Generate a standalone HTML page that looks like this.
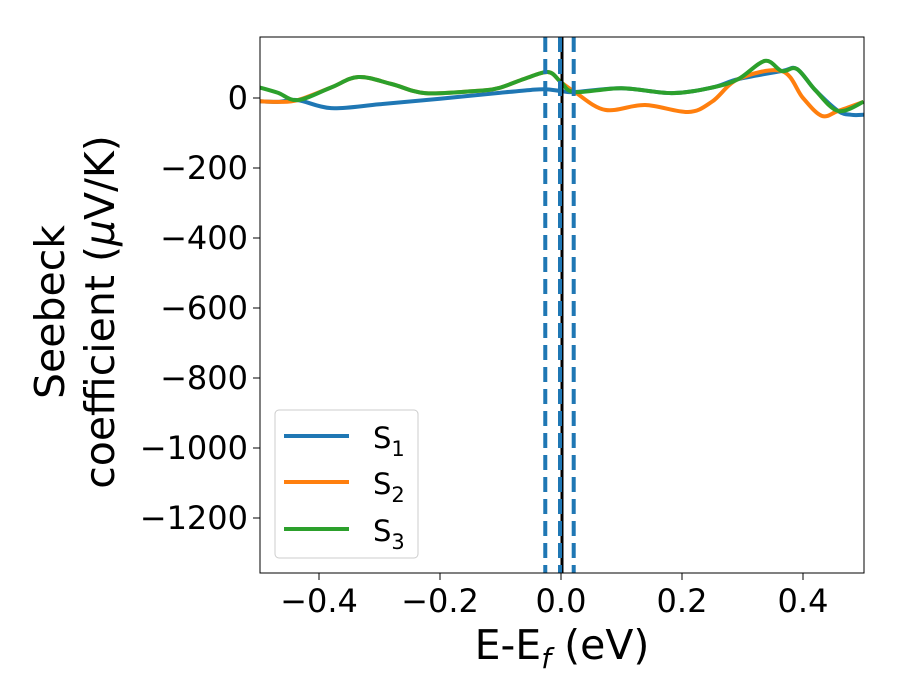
<!DOCTYPE html>
<html><head><meta charset="utf-8"><style>
html,body{margin:0;padding:0;background:#fff;}
svg{display:block;font-family:"DejaVu Sans","Liberation Sans",sans-serif;}
</style></head><body>
<svg id="chart" width="900" height="700">
<defs><clipPath id="clip"><rect x="260" y="37" width="604" height="536"/></clipPath></defs>
<g id="plot" clip-path="url(#clip)"></g>
<rect x="260" y="37" width="604" height="536" fill="none" stroke="#000" stroke-width="1"/>
<g id="xticks"></g>
<g id="yticks"></g>
<text x="562" y="659" font-size="41" text-anchor="middle">E-E<tspan font-style="italic" font-size="28" dy="9">f</tspan><tspan dy="-9"> (eV)</tspan></text>
<g transform="translate(64,312) rotate(-90)">
<text x="0" y="0" font-size="41" text-anchor="middle">Seebeck</text>
<text x="0" y="50" font-size="41" text-anchor="middle">coefficient  (<tspan font-style="italic">μ</tspan>V/K)</text>
</g>
<g>
<rect x="275" y="410" width="143" height="148" rx="4" fill="#fff" fill-opacity="0.8" stroke="#ccc" stroke-width="1"/>
<g><line x1="284" y1="436" x2="349" y2="436" stroke="#1f77b4" stroke-width="4"/><text x="373" y="448" font-size="29">S<tspan font-size="21" dy="8">1</tspan></text></g>
<g><line x1="284" y1="482" x2="349" y2="482" stroke="#ff7f0e" stroke-width="4"/><text x="373" y="494" font-size="29">S<tspan font-size="21" dy="8">2</tspan></text></g>
<g><line x1="284" y1="529" x2="349" y2="529" stroke="#2ca02c" stroke-width="4"/><text x="373" y="541" font-size="29">S<tspan font-size="21" dy="8">3</tspan></text></g>
</g>
</svg>
<script>
const xTicks=[-0.4,-0.2,0.0,0.2,0.4];
const xTickLabels=["−0.4","−0.2","0.0","0.2","0.4"];
const yTicks=[0,-200,-400,-600,-800,-1000,-1200];
const yTickLabels=["0","−200","−400","−600","−800","−1000","−1200"];
const s1X=[-0.5,-0.468,-0.435,-0.38,-0.3,-0.2,-0.1,-0.05,-0.026,0,0.023,0.1,0.183,0.25,0.293,0.365,0.39,0.42,0.458,0.48,0.5];
const s1Y=[-9,-11,-6,-29,-18,-2,15,23,25,20,17,28,14,30,54,77,83,23,-37,-48,-48];
const s2X=[-0.5,-0.468,-0.435,-0.38,-0.335,-0.28,-0.225,-0.142,-0.104,-0.06,-0.021,0,0.023,0.073,0.139,0.21,0.25,0.293,0.365,0.4,0.431,0.458,0.5];
const s2Y=[-9,-11,-6,30,60,40,14,20,28,55,74,45,17,-34,-20,-40,-10,54,77,0,-51,-37,-11];
const s3X=[-0.5,-0.468,-0.435,-0.38,-0.335,-0.28,-0.225,-0.142,-0.104,-0.06,-0.021,0,0.023,0.1,0.183,0.25,0.293,0.337,0.365,0.39,0.42,0.458,0.5];
const s3Y=[31,15,-6,30,60,40,14,20,28,55,74,45,17,28,14,30,54,106,77,83,23,-37,-11];
const vLines=[-0.026,0.0,0.021];

const xs=v=>561+v*605;
const ys=v=>98-v*0.35;
const NS="http://www.w3.org/2000/svg";
function mk(tag,attrs,parent){const e=document.createElementNS(NS,tag);for(const k in attrs)e.setAttribute(k,attrs[k]);parent.appendChild(e);return e;}
function path(X,Y){const p=X.map((x,i)=>[xs(x),ys(Y[i])]);let d="M"+p[0][0]+","+p[0][1];
 for(let i=0;i<p.length-1;i++){const p0=p[Math.max(0,i-1)],p1=p[i],p2=p[i+1],p3=p[Math.min(p.length-1,i+2)];
 const c1=[p1[0]+(p2[0]-p0[0])/6,p1[1]+(p2[1]-p0[1])/6],c2=[p2[0]-(p3[0]-p1[0])/6,p2[1]-(p3[1]-p1[1])/6];
 d+=" C"+c1+" "+c2+" "+p2;}return d;}
const plot=document.getElementById("plot");
const series=[[s1X,s1Y,"#1f77b4","series-s1"],[s2X,s2Y,"#ff7f0e","series-s2"],[s3X,s3Y,"#2ca02c","series-s3"]];
series.forEach(s=>{const e=mk("path",{d:path(s[0],s[1]),fill:"none",stroke:s[2],"stroke-width":4,"stroke-linejoin":"round"},plot);

});
const fl=mk("line",{x1:xs(0)+1,x2:xs(0)+1,y1:37,y2:573,stroke:"#000","stroke-width":3},plot);


vLines.forEach((v,i)=>{const x=xs(v)-(v===0?1:0);const e=mk("line",{x1:x,x2:x,y1:37,y2:573,stroke:"#1f77b4","stroke-width":4,"stroke-dasharray":"15,7"},plot);

});
const xg=document.getElementById("xticks");
xTicks.forEach((v,i)=>{mk("line",{x1:xs(v),x2:xs(v),y1:573,y2:580,stroke:"#000","stroke-width":1},xg);
const t=mk("text",{x:xs(v),y:612,"font-size":32,"text-anchor":"middle"},xg);t.textContent=xTickLabels[i];

});
const yg=document.getElementById("yticks");
yTicks.forEach((v,i)=>{mk("line",{x1:253,x2:260,y1:ys(v),y2:ys(v),stroke:"#000","stroke-width":1},yg);
const t=mk("text",{x:248,y:ys(v)+11,"font-size":32,"text-anchor":"end"},yg);t.textContent=yTickLabels[i];

});
</script>
</body></html>
